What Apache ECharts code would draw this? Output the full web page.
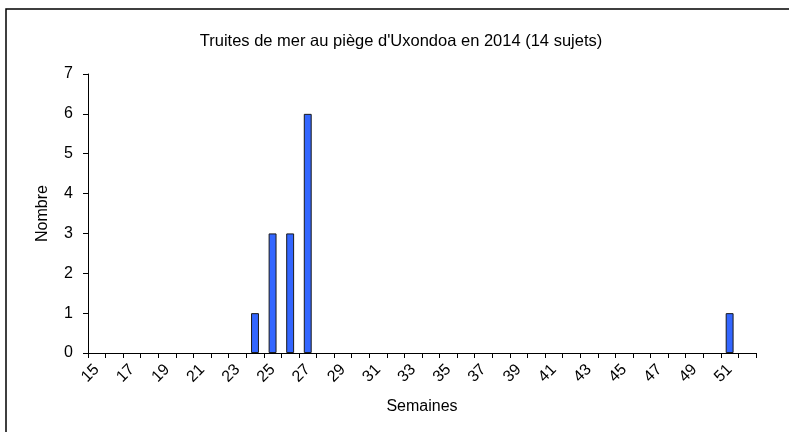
<!DOCTYPE html>
<html>
<head>
<meta charset="utf-8">
<script src="https://cdn.jsdelivr.net/npm/echarts@6/dist/echarts.min.js"></script>
<style>
  html, body { margin: 0; padding: 0; background: #fff; }
  #chart { width: 789px; height: 432px; }
</style>
</head>
<body>
<div id="chart"></div>
<script>
// semaines 15 a 52
var weeks = ['15','16','17','18','19','20','21','22','23','24','25','26','27','28','29','30','31','32','33',
             '34','35','36','37','38','39','40','41','42','43','44','45','46','47','48','49','50','51','52'];
var counts = [0,0,0,0,0,0,0,0,0,1,3,3,6,0,0,0,0,0,0,
              0,0,0,0,0,0,0,0,0,0,0,0,0,0,0,0,0,1,0];
var yTicks = [0, 1, 2, 3, 4, 5, 6, 7];

var chart = echarts.init(document.getElementById('chart'));
var font = 'Liberation Sans, Arial, sans-serif';
var option = {
    animation: false,
    title: {
        text: "Truites de mer au piège d'Uxondoa en 2014 (14 sujets)",
        left: 396,
        top: 28,
        textAlign: 'center',
        textStyle: { fontFamily: font, fontSize: 16.5, fontWeight: 'normal', color: '#000' }
    },
    graphic: [{
        type: 'rect',
        shape: { x: 6, y: 9, width: 800, height: 450 },
        style: { fill: 'none', stroke: '#000', lineWidth: 1.5 }
    }],
    grid: { left: 88, right: 33, top: 74, bottom: 79 },
    xAxis: {
        type: 'category',
        data: weeks,
        name: 'Semaines',
        nameLocation: 'middle',
        nameGap: 46,
        nameTextStyle: { fontFamily: font, fontSize: 16, color: '#000' },
        axisLine: { lineStyle: { color: '#000', width: 1 } },
        axisTick: { show: true, interval: 0, alignWithLabel: false, length: 5, lineStyle: { color: '#000', width: 1 } },
        axisLabel: { interval: 1, rotate: 45, margin: 14, fontFamily: font, fontSize: 16, color: '#000' },
        splitLine: { show: false }
    },
    yAxis: {
        type: 'value',
        min: yTicks[0],
        max: yTicks[yTicks.length - 1],
        interval: 1,
        name: 'Nombre',
        nameLocation: 'middle',
        nameGap: 37,
        nameTextStyle: { fontFamily: font, fontSize: 16, color: '#000' },
        axisLine: { show: true, lineStyle: { color: '#000', width: 1 } },
        axisTick: { show: true, length: 5, lineStyle: { color: '#000' } },
        axisLabel: { margin: 15, fontFamily: font, fontSize: 16, color: '#000' },
        splitLine: { show: false }
    },
    series: [{
        type: 'bar',
        // weeks with no fish get no bar at all
        data: counts.map(function (v) { return v === 0 ? '-' : v; }),
        barWidth: '45%',
        itemStyle: { color: '#3366ff', borderColor: '#1a1a1a', borderWidth: 1 }
    }]
};
chart.setOption(option);
</script>
</body>
</html>
